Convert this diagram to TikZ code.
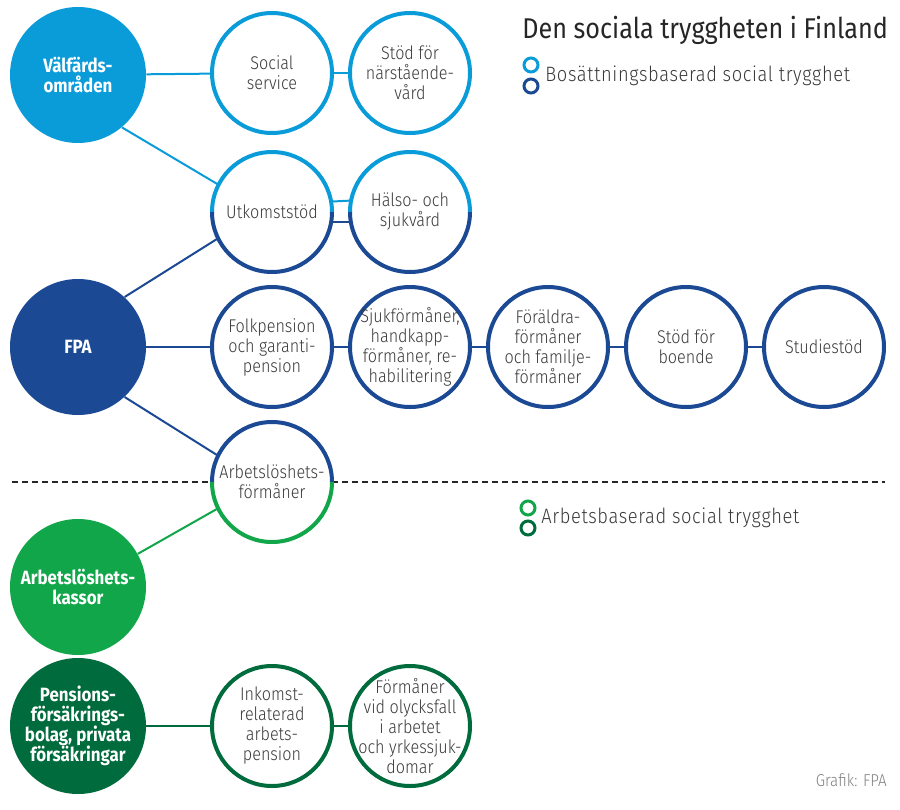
\documentclass[tikz,border=0pt]{standalone}
\usepackage{fontspec}
\setmainfont{Fira Sans}[FakeStretch=0.88, UprightFont=* Light, BoldFont=* Bold]
\newfontfamily\titlefont{Fira Sans}[FakeStretch=0.88]

\definecolor{lblue}{HTML}{0A9CD9}
\definecolor{dblue}{HTML}{1C4994}
\definecolor{lgreen}{HTML}{12A64A}
\definecolor{dgreen}{HTML}{006B3C}
\definecolor{txt}{HTML}{3A3A3A}

\tikzset{
  bigdot/.style={circle, fill=#1, minimum size=68pt, inner sep=-6pt, text=white,
    font=\bfseries\fontsize{9.6}{10}\selectfont, align=center},
  ring/.style={circle, draw=#1, line width=2pt, fill=white, minimum size=60pt,
    inner sep=-8pt, text=txt, font=\fontsize{9.2}{10}\selectfont, align=center},
  splitring/.style={ring=white, draw=none, outer sep=0pt},
  link/.style={line width=1pt, #1},
  legring/.style={circle, draw=#1, line width=1.5pt, minimum size=7pt, inner sep=0pt},
  legtext/.style={anchor=west, inner sep=0pt, text=txt, font=\fontsize{10.4}{12}\selectfont\addfontfeature{LetterSpace=3}},
}

\begin{document}
\begin{tikzpicture}[x=0.5pt, y=-0.5pt]
\useasboundingbox (0,0) rectangle (900,809);

% divider between the two kinds of social security
\coordinate (dashL) at (12,482);
\coordinate (dashR) at (885,482);
\draw[line width=1pt, dash pattern=on 3pt off 2pt, black!85] (dashL) -- (dashR);

% organisers
\node[bigdot=lblue] (valf) at (78,75) {Välfärds-\\områden};
\node[bigdot=dblue] (fpa) at (78,347) {FPA};
\node[bigdot=lgreen] (akas) at (78,587) {Arbetslöshets-\\kassor};
\node[bigdot=dgreen] (pens) at (78,726) {Pensions-\\försäkrings-\\bolag, privata\\försäkringar};

% benefits
\node[ring=lblue] (socs) at (272,73) {Social\\service};
\node[ring=lblue] (narst) at (410,73) {Stöd för\\närstående-\\vård};
\node[splitring] (utk) at (272,212) {Utkomststöd};
\node[splitring] (halso) at (410,212) {Hälso- och\\sjukvård};
\node[ring=dblue] (folk) at (272,347) {Folkpension\\och garanti-\\pension};
\node[ring=dblue] (sjuk) at (410,347) {Sjukförmåner,\\handkapp-\\förmåner, re-\\habilitering};
\node[ring=dblue] (fora) at (548,347) {Föräldra-\\förmåner\\och familje-\\förmåner};
\node[ring=dblue] (bost) at (686,347) {Stöd för\\boende};
\node[ring=dblue] (stud) at (824,347) {Studiestöd};
\node[splitring] (arbf) at (272,482) {Arbetslöshets-\\förmåner};
\node[ring=dgreen] (inko) at (272,726) {Inkomst-\\relaterad\\arbets-\\pension};
\node[ring=dgreen] (olyc) at (410,726) {Förmåner\\vid olycksfall\\i arbetet\\och yrkessjuk-\\domar};

% two-coloured rings
\draw[lblue, line width=2pt] (utk.180) arc[start angle=180, end angle=0, radius=30pt];
\draw[dblue, line width=2pt] (utk.180) arc[start angle=180, end angle=360, radius=30pt];
\draw[lblue, line width=2pt] (halso.180) arc[start angle=180, end angle=0, radius=30pt];
\draw[dblue, line width=2pt] (halso.180) arc[start angle=180, end angle=360, radius=30pt];
\draw[dblue, line width=2pt] (arbf.180) arc[start angle=180, end angle=0, radius=30pt];
\draw[lgreen, line width=2pt] (arbf.180) arc[start angle=180, end angle=360, radius=30pt];

% connectors
\draw[link=lblue] (valf) -- (socs);
\draw[link=lblue] (socs) -- (narst);
\draw[link=lblue] (valf.-50) -- (utk.153);
\draw[link=lblue] (utk.10.6) -- (halso.169.4);
\draw[link=dblue] (utk.-10.6) -- (halso.190.6);
\draw[link=dblue] (fpa.47) -- (utk.206);
\draw[link=dblue] (fpa) -- (folk);
\foreach \from/\to in {folk/sjuk, sjuk/fora, fora/bost, bost/stud}
	\draw[link=dblue] (\from) -- (\to);
\draw[link=dblue] (fpa.-47) -- (arbf.154);
\draw[link=lgreen] (akas.29) -- (arbf.206);
\draw[link=dgreen] (pens) -- (inko);
\draw[link=dgreen] (inko) -- (olyc);

% title and legend
\node[anchor=base west, inner sep=0pt, text=black!85, font=\titlefont\fontsize{14.3}{16}\selectfont] (title) at (522,38) {Den sociala tryggheten i Finland};
\node[legring=lblue] (resA) at (531,65) {};
\node[legring=dblue] (resB) at (531,86) {};
\node[legtext] (resT) at (545,76) {Bosättningsbaserad social trygghet};
\node[legring=lgreen] (workA) at (528,508) {};
\node[legring=dgreen] (workB) at (528,528) {};
\node[legtext] (workT) at (541,518) {Arbetsbaserad social trygghet};
\node[anchor=base east, inner sep=0pt, text=black!50, font=\fontsize{8.6}{10}\selectfont] (credit) at (887,786) {Grafik: FPA};
\end{tikzpicture}
\end{document}
